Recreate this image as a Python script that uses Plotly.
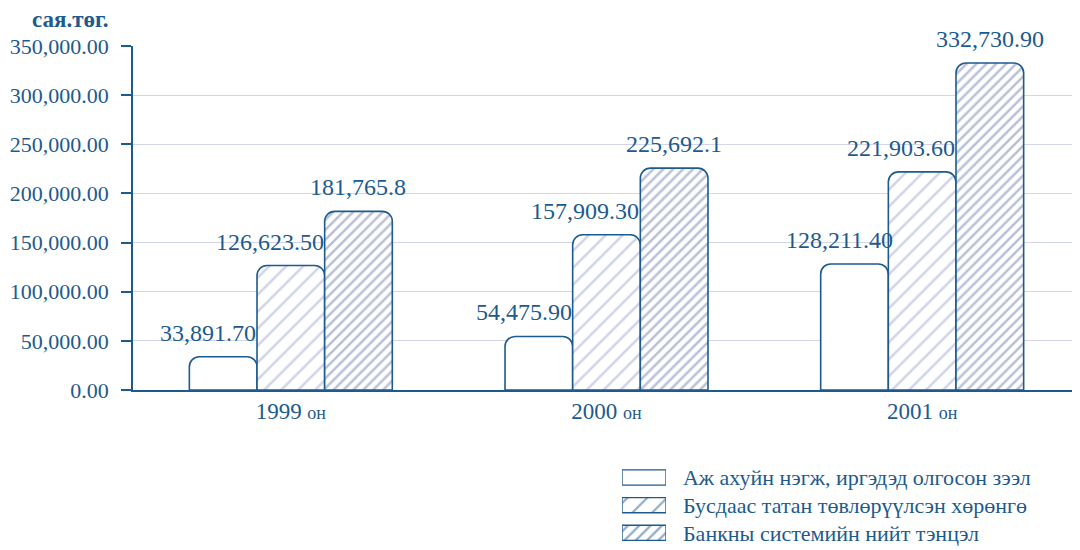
"""Grouped bar chart: loans, attracted funds and bank balance, 1999-2001."""

import plotly.graph_objects as go

BLUE = "#1d5a8e"
GRID = "#d4d6ea"
FONT = "Liberation Serif"

years = ["1999", "2000", "2001"]
year_suffix = "он"
series_names = [
    "Аж ахуйн нэгж, иргэдэд олгосон зээл",
    "Бусдаас татан төвлөрүүлсэн хөрөнгө",
    "Банкны системийн нийт тэнцэл",
]
loans = [33891.70, 54475.90, 128211.40]
attracted = [126623.50, 157909.30, 221903.60]
balance = [181765.8, 225692.1, 332730.90]
value_labels = [
    ["33,891.70", "54,475.90", "128,211.40"],
    ["126,623.50", "157,909.30", "221,903.60"],
    ["181,765.8", "225,692.1", "332,730.90"],
]
y_ticks = [0, 50000, 100000, 150000, 200000, 250000, 300000, 350000]
unit_label = "сая.төг."
swatch = [1, 1, 1]

series_values = [loans, attracted, balance]
patterns = [
    dict(shape="", fgcolor=BLUE),
    dict(shape="/", fgcolor="#9ea6cf", size=12, solidity=0.2, bgcolor="white"),
    dict(shape="/", fgcolor="#7380b2", size=7, solidity=0.36, bgcolor="white"),
]

# the page body keeps its 8px default margin, so the figure is 8px smaller
W, H = 1072, 542

fig = go.Figure()
for name, values, pattern in zip(series_names, series_values, patterns):
    fig.add_trace(go.Bar(
        x=years,
        y=values,
        name=name,
        marker=dict(color="white", line=dict(color=BLUE, width=1.6), pattern=pattern),
        hoverinfo="skip",
        showlegend=False,
    ))

# legend drawn as a tiny bar subplot so the swatches are wide hatched boxes
fig.add_trace(go.Bar(
    x=swatch,
    y=series_names,
    orientation="h",
    width=0.55,
    xaxis="x2",
    yaxis="y2",
    marker=dict(
        color="white",
        line=dict(color=BLUE, width=1.3),
        cornerradius=0,
        pattern=dict(
            shape=["", "/", "/"],
            fgcolor=BLUE,
            size=[10, 14, 8],
            solidity=[0.1, 0.16, 0.28],
            bgcolor="white",
        ),
    ),
    hoverinfo="skip",
    showlegend=False,
))

# value labels sit a little to the left of the first two bars
# (category axis: position by index, numeric-looking names are read as indices)
bar_px = 67.6
label_shift = [-15, -21, 0]
for i, labels in enumerate(value_labels):
    for j, (value, text) in enumerate(zip(series_values[i], labels)):
        fig.add_annotation(
            x=j, y=value, xref="x", yref="y", text=text, showarrow=False,
            xshift=(i - 1) * bar_px + label_shift[i], yshift=9, yanchor="bottom",
            font=dict(family=FONT, size=24, color=BLUE),
        )

fig.add_annotation(
    xref="paper", yref="paper", x=0.0951, y=0.979, xanchor="right", yanchor="middle",
    text=f"<b>{unit_label}</b>", showarrow=False, borderpad=0,
    font=dict(family=FONT, size=23, color=BLUE),
)

fig.update_layout(
    width=W,
    height=H,
    margin=dict(l=0, r=0, t=0, b=0),
    paper_bgcolor="white",
    plot_bgcolor="white",
    barmode="group",
    bargap=0.357,
    bargroupgap=0,
    barcornerradius=10,
    font=dict(family=FONT, color=BLUE, size=22),
    showlegend=False,
    xaxis=dict(
        domain=[0.1166, 1.0],
        type="category",
        tickvals=years,
        ticktext=[f"{y} <span style='font-size:18px'>{year_suffix}</span>" for y in years],
        showline=True, linecolor=BLUE, linewidth=1.5,
        showgrid=False, ticks="", range=[-0.5, 2.5],
        tickfont=dict(family=FONT, size=23, color=BLUE),
    ),
    yaxis=dict(
        domain=[0.2952, 0.9299],
        range=[0, 350000],
        tickvals=y_ticks,
        ticktext=[f"{v:,.2f}" for v in y_ticks],
        showline=True, linecolor=BLUE, linewidth=1.5,
        ticks="outside", ticklen=10, tickcolor=BLUE, tickwidth=1.5,
        showgrid=True, gridcolor=GRID, gridwidth=1.3,
        zeroline=False, automargin=False, ticklabelstandoff=8,
        tickfont=dict(family=FONT, size=22, color=BLUE),
    ),
    xaxis2=dict(
        domain=[0.5728, 0.6138], anchor="y2", range=[0, 1],
        visible=False, fixedrange=True,
    ),
    yaxis2=dict(
        domain=[0.0061, 0.1594], anchor="x2", type="category",
        categoryorder="array", categoryarray=series_names[::-1],
        range=[-0.5, 2.5], side="right", showline=False, showgrid=False,
        zeroline=False, ticks="", ticklabelstandoff=16, automargin=False,
        tickfont=dict(family=FONT, size=22, color=BLUE),
    ),
)

fig.write_html("out.html")
